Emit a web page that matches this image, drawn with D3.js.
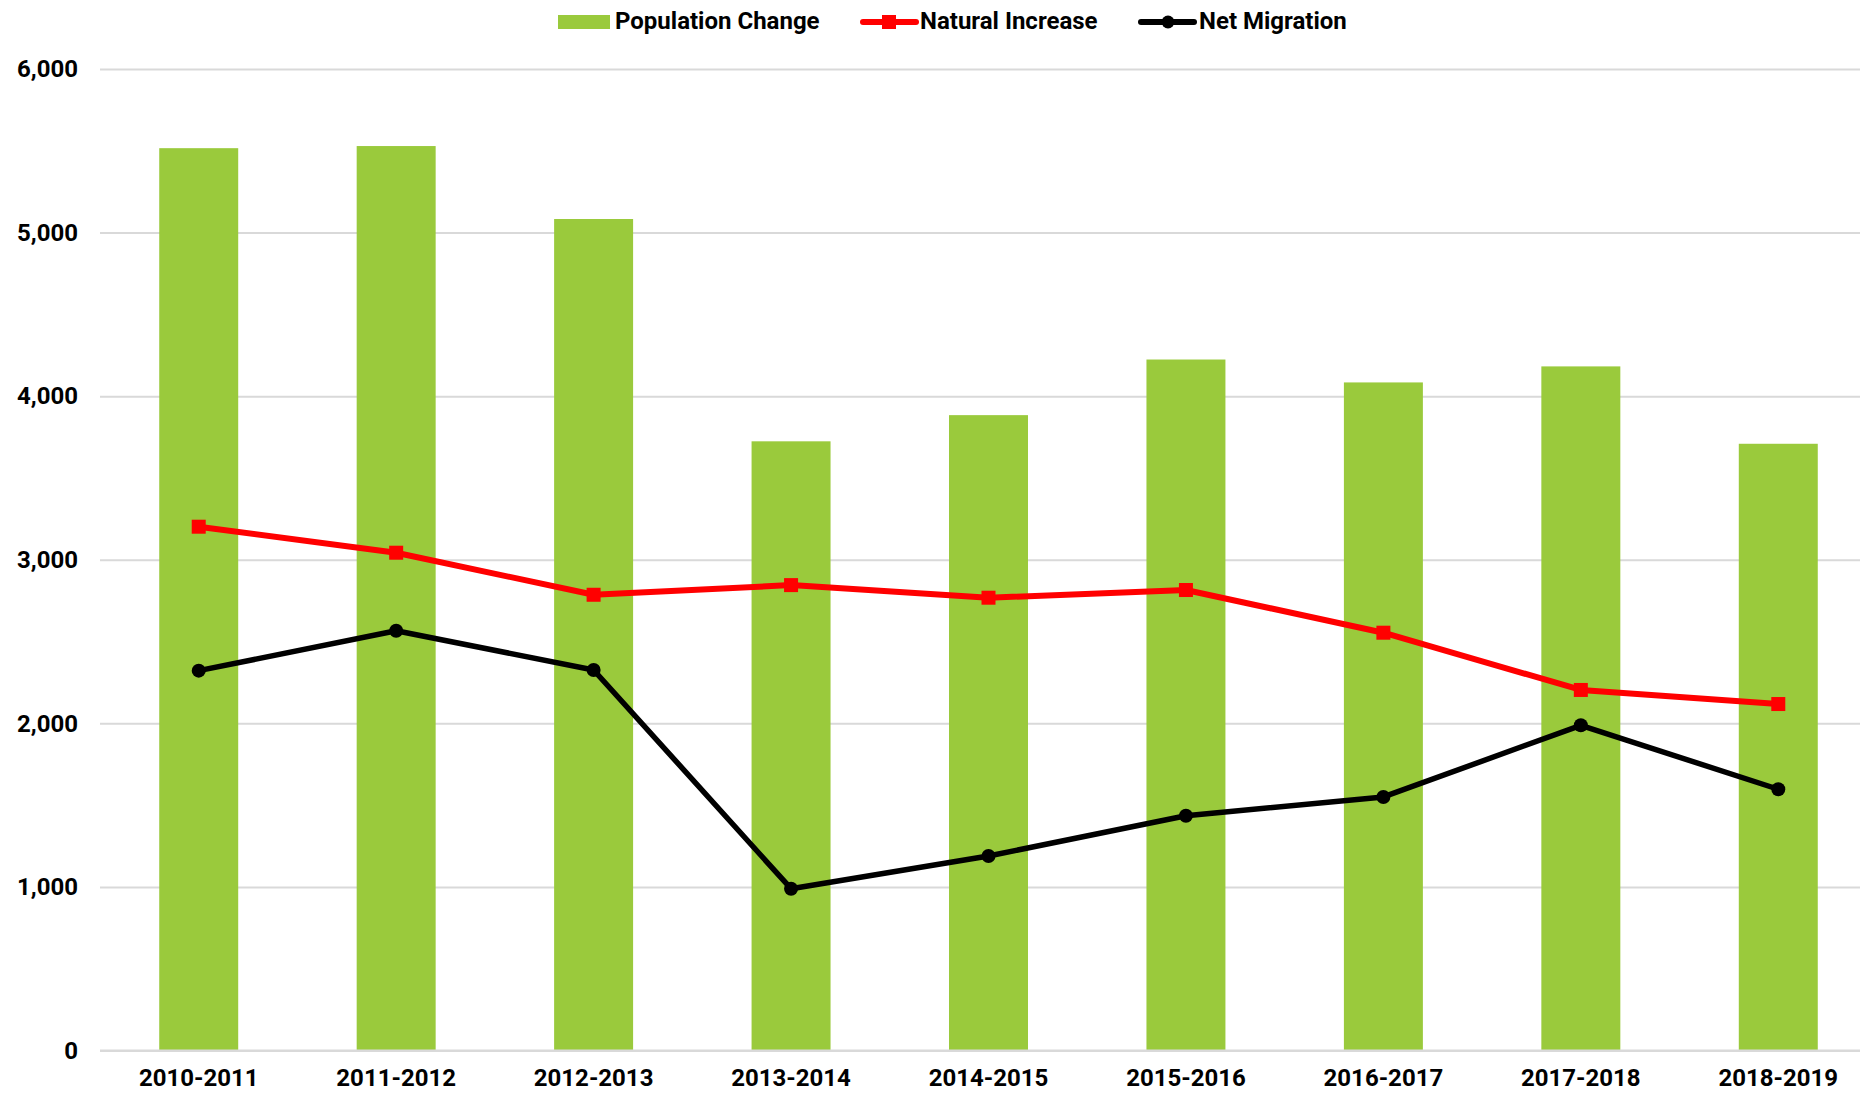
<!DOCTYPE html>
<html>
<head>
<meta charset="utf-8">
<script src="https://cdn.jsdelivr.net/npm/d3@7"></script>
<style>
  html, body { margin: 0; padding: 0; background: #fff; }
  svg { display: block; }
  text { font-family: Roboto, "Noto Sans", sans-serif; font-weight: 700; fill: #000; }
</style>
</head>
<body>
<svg id="chart" width="1860" height="1093"></svg>
<script>
const categories = ["2010-2011","2011-2012","2012-2013","2013-2014","2014-2015","2015-2016","2016-2017","2017-2018","2018-2019"];
const populationChange = [5516, 5529, 5083, 3724, 3884, 4224, 4084, 4182, 3709];
const naturalIncrease  = [3202, 3043, 2786, 2845, 2768, 2815, 2554, 2204, 2118];
const netMigration     = [2322, 2566, 2326,  989, 1189, 1435, 1550, 1988, 1597];
const yTicks = [0, 1000, 2000, 3000, 4000, 5000, 6000];

(function () {
const svg = d3.select("#chart");
const pLeft = 100, pRight = 1877, pTop = 69, pBottom = 1050.5;

const x = d3.scaleBand().domain(categories).range([pLeft, pRight]).paddingInner(0.6).paddingOuter(0.3);
const y = d3.scaleLinear().domain([0, 6000]).range([pBottom, pTop]);
const cx = d => x(d) + x.bandwidth() / 2;

// gridlines
const yAxis = d3.axisLeft(y).tickValues(yTicks).tickFormat(d3.format(",")).tickSize(-(pRight - pLeft)).tickPadding(22);
const gy = svg.append("g").attr("transform", `translate(${pLeft},0)`).call(yAxis);
gy.select(".domain").remove();
gy.selectAll(".tick line").attr("stroke", "#d9d9d9").attr("stroke-width", 2);
gy.selectAll(".tick text").attr("font-size", 24).attr("font-family", "Roboto").attr("font-weight", 700).attr("fill", "#000");

// bars
svg.append("g").selectAll("rect").data(categories).join("rect")
  .attr("x", d => x(d))
  .attr("width", x.bandwidth())
  .attr("y", (d, i) => y(populationChange[i]))
  .attr("height", (d, i) => y(0) - y(populationChange[i]))
  .attr("fill", "#9aca3c");

// baseline
svg.append("line").attr("x1", pLeft).attr("x2", pRight).attr("y1", y(0)).attr("y2", y(0))
  .attr("stroke", "#d9d9d9").attr("stroke-width", 2);

// x axis labels
const xAxis = d3.axisBottom(x).tickSize(0).tickPadding(18.5);
const gx = svg.append("g").attr("transform", `translate(0,${pBottom})`).call(xAxis);
gx.select(".domain").remove();
gx.selectAll(".tick text").attr("font-size", 24).attr("font-family", "Roboto").attr("font-weight", 700).attr("fill", "#000");

// lines
const line = d3.line().x(d => cx(d[0])).y(d => y(d[1]));
const natPts = categories.map((c, i) => [c, naturalIncrease[i]]);
const migPts = categories.map((c, i) => [c, netMigration[i]]);

svg.append("path").datum(migPts).attr("d", line).attr("fill", "none")
  .attr("stroke", "#000").attr("stroke-width", 5.5).attr("stroke-linejoin", "round");
svg.append("g").selectAll("circle").data(migPts).join("circle")
  .attr("cx", d => cx(d[0])).attr("cy", d => y(d[1])).attr("r", 7).attr("fill", "#000");

svg.append("path").datum(natPts).attr("d", line).attr("fill", "none")
  .attr("stroke", "#ff0000").attr("stroke-width", 6).attr("stroke-linejoin", "round");
const sq = 14;
svg.append("g").selectAll("rect").data(natPts).join("rect")
  .attr("x", d => cx(d[0]) - sq / 2).attr("y", d => y(d[1]) - sq / 2)
  .attr("width", sq).attr("height", sq).attr("fill", "#ff0000");

// legend
const lg = svg.append("g");
lg.append("rect").attr("x", 558).attr("y", 15).attr("width", 52).attr("height", 14).attr("fill", "#9aca3c");
lg.append("text").attr("x", 615).attr("y", 29).attr("font-size", 24).text("Population Change");

lg.append("line").attr("x1", 863).attr("x2", 916).attr("y1", 22).attr("y2", 22)
  .attr("stroke", "#ff0000").attr("stroke-width", 6).attr("stroke-linecap", "round");
lg.append("rect").attr("x", 882).attr("y", 15).attr("width", 14).attr("height", 14).attr("fill", "#ff0000");
lg.append("text").attr("x", 920).attr("y", 29).attr("font-size", 24).text("Natural Increase");

lg.append("line").attr("x1", 1141).attr("x2", 1194).attr("y1", 22).attr("y2", 22)
  .attr("stroke", "#000").attr("stroke-width", 6).attr("stroke-linecap", "round");
lg.append("circle").attr("cx", 1168).attr("cy", 22).attr("r", 6.5).attr("fill", "#000");
lg.append("text").attr("x", 1199).attr("y", 29).attr("font-size", 24).text("Net Migration");
})();
</script>
</body>
</html>
